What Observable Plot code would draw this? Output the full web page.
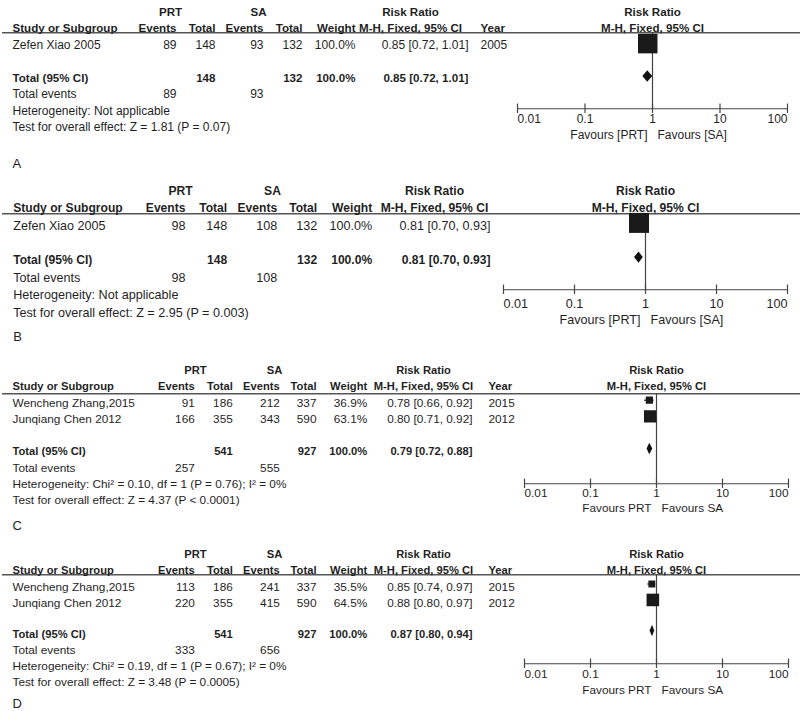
<!DOCTYPE html>
<html><head><meta charset="utf-8">
<script src="https://cdn.jsdelivr.net/npm/d3@7"></script>
<script src="https://cdn.jsdelivr.net/npm/@observablehq/plot@0.6"></script>
<style>
body{margin:0;background:#fff;}
#fig{position:relative;width:800px;height:711px;overflow:hidden;font-family:"Liberation Sans",Arial,sans-serif;background:#fff;}
.panel{position:absolute;left:0;width:800px;}
</style></head><body><div id="fig"></div>
<script>
// ---------------- DATA ----------------
const panelIds = ["A", "B", "C", "D"];

// Panel A
const studiesA = ["Zefen Xiao 2005"];
const prtEventsA = [89];
const prtTotalA = [148];
const saEventsA = [93];
const saTotalA = [132];
const weightA = [100.0];
const rrA = [0.85];
const rrLowA = [0.72];
const rrHighA = [1.01];
const yearA = [2005];
const totalA = {prtTotal: 148, saTotal: 132, weight: 100.0, rr: 0.85, low: 0.72, high: 1.01, prtEvents: 89, saEvents: 93};
const hetA = "Heterogeneity: Not applicable";
const testA = "Test for overall effect: Z = 1.81 (P = 0.07)";

// Panel B
const studiesB = ["Zefen Xiao 2005"];
const prtEventsB = [98];
const prtTotalB = [148];
const saEventsB = [108];
const saTotalB = [132];
const weightB = [100.0];
const rrB = [0.81];
const rrLowB = [0.70];
const rrHighB = [0.93];
const yearB = null;
const totalB = {prtTotal: 148, saTotal: 132, weight: 100.0, rr: 0.81, low: 0.70, high: 0.93, prtEvents: 98, saEvents: 108};
const hetB = "Heterogeneity: Not applicable";
const testB = "Test for overall effect: Z = 2.95 (P = 0.003)";

// Panel C
const studiesC = ["Wencheng Zhang,2015", "Junqiang Chen 2012"];
const prtEventsC = [91, 166];
const prtTotalC = [186, 355];
const saEventsC = [212, 343];
const saTotalC = [337, 590];
const weightC = [36.9, 63.1];
const rrC = [0.78, 0.80];
const rrLowC = [0.66, 0.71];
const rrHighC = [0.92, 0.92];
const yearC = [2015, 2012];
const totalC = {prtTotal: 541, saTotal: 927, weight: 100.0, rr: 0.79, low: 0.72, high: 0.88, prtEvents: 257, saEvents: 555};
const hetC = "Heterogeneity: Chi² = 0.10, df = 1 (P = 0.76); I² = 0%";
const testC = "Test for overall effect: Z = 4.37 (P < 0.0001)";

// Panel D
const studiesD = ["Wencheng Zhang,2015", "Junqiang Chen 2012"];
const prtEventsD = [113, 220];
const prtTotalD = [186, 355];
const saEventsD = [241, 415];
const saTotalD = [337, 590];
const weightD = [35.5, 64.5];
const rrD = [0.85, 0.88];
const rrLowD = [0.74, 0.80];
const rrHighD = [0.97, 0.97];
const yearD = [2015, 2012];
const totalD = {prtTotal: 541, saTotal: 927, weight: 100.0, rr: 0.87, low: 0.80, high: 0.94, prtEvents: 333, saEvents: 656};
const hetD = "Heterogeneity: Chi² = 0.19, df = 1 (P = 0.67); I² = 0%";
const testD = "Test for overall effect: Z = 3.48 (P = 0.0005)";

const tickValues = [0.01, 0.1, 1, 10, 100];
const tickLabels = ["0.01", "0.1", "1", "10", "100"];
const favoursLeft = {A: "Favours [PRT]", B: "Favours [PRT]", C: "Favours PRT", D: "Favours PRT"};
const favoursRight = {A: "Favours [SA]", B: "Favours [SA]", C: "Favours SA", D: "Favours SA"};

const panelData = {
  A: {studies: studiesA, prtEvents: prtEventsA, prtTotal: prtTotalA, saEvents: saEventsA, saTotal: saTotalA, weight: weightA, rr: rrA, low: rrLowA, high: rrHighA, year: yearA, total: totalA, het: hetA, test: testA},
  B: {studies: studiesB, prtEvents: prtEventsB, prtTotal: prtTotalB, saEvents: saEventsB, saTotal: saTotalB, weight: weightB, rr: rrB, low: rrLowB, high: rrHighB, year: yearB, total: totalB, het: hetB, test: testB},
  C: {studies: studiesC, prtEvents: prtEventsC, prtTotal: prtTotalC, saEvents: saEventsC, saTotal: saTotalC, weight: weightC, rr: rrC, low: rrLowC, high: rrHighC, year: yearC, total: totalC, het: hetC, test: testC},
  D: {studies: studiesD, prtEvents: prtEventsD, prtTotal: prtTotalD, saEvents: saEventsD, saTotal: saTotalD, weight: weightD, rr: rrD, low: rrLowD, high: rrHighD, year: yearD, total: totalD, het: hetD, test: testD}
};

// ---------------- LAYOUT ----------------
const layout = {
  A: {top: 0, h: 170, fs: 12, fsb: 11.6, y0: 11.7, rowH: 16.45, studyRows: [2], totalRow: 4, eventsRow: 5, hetRow: 6, testRow: 7, labelRow: 9.2, ruleRow: 1.25, axisRow: 5.87,
      cols: {study: 12, ev1: 176, tot1: 215, ev2: 263, tot2: 302, wt: 355, rr: 468, rrHead: 410, year: 480, prt: 170, sa: 258},
      fx: [517, 787], side: 19.5, tickDy: 10.5, favDy: 26, markDy: -1.5},
  B: {top: 170, h: 185, fs: 12.6, fsb: 12.1, y0: 20.7, rowH: 17.35, studyRows: [2], totalRow: 4, eventsRow: 5, hetRow: 6, testRow: 7, labelRow: 8.42, ruleRow: 1.30, axisRow: 5.68,
      cols: {study: 12.7, ev1: 185, tot1: 226.7, ev2: 276.7, tot2: 316.7, wt: 371.7, rr: 490, rrHead: 434, year: null, prt: 180, sa: 272},
      fx: [503, 787], side: 20, tickDy: 14, favDy: 30, markDy: -3},
  C: {top: 355, h: 180, fs: 11.8, fsb: 11.2, y0: 15, rowH: 16.25, studyRows: [2, 3], totalRow: 5, eventsRow: 6, hetRow: 7, testRow: 8, labelRow: 9.54, ruleRow: 1.43, axisRow: 6.97,
      cols: {study: 12, ev1: 194.3, tot1: 232.3, ev2: 279.3, tot2: 316, wt: 366.7, rr: 472, rrHead: 423, year: 488, prt: 195, sa: 274},
      fx: [524, 788], side: 19.5, tickDy: 9, favDy: 24.4, markDy: -2.8},
  D: {top: 535, h: 176, fs: 11.8, fsb: 11.2, y0: 19.3, rowH: 15.95, studyRows: [2.05, 3.05], totalRow: 5, eventsRow: 6, hetRow: 7, testRow: 8, labelRow: 9.34, ruleRow: 1.25, axisRow: 6.83,
      cols: {study: 12, ev1: 194.3, tot1: 232.3, ev2: 279.3, tot2: 316, wt: 366.7, rr: 472, rrHead: 423, year: 488, prt: 195, sa: 274},
      fx: [524, 788], side: 19.5, tickDy: 10.9, favDy: 26, markDy: -3.5}
};

const TEXT = "#1f1f1f";
const LINE = "#444";
const FONT = "Liberation Sans, Arial, sans-serif";
const f2 = d3.format(".2f");
const f1 = d3.format(".1f");
const ciText = (r, l, h) => `${f2(r)} [${f2(l)}, ${f2(h)}]`;
const wText = w => f1(w) + "%";

function buildPanel(id) {
  const d = panelData[id], L = layout[id], c = L.cols;
  const rows = d.studies.map((s, i) => ({
    name: s, ev1: d.prtEvents[i], tot1: d.prtTotal[i], ev2: d.saEvents[i], tot2: d.saTotal[i],
    w: d.weight[i], rr: d.rr[i], lo: d.low[i], hi: d.high[i], year: d.year ? d.year[i] : null, row: L.studyRows[i]
  }));
  const cells = [];
  const add = (x, row, text, anchor, bold) => cells.push({x, row, text: String(text), anchor, bold});
  add(c.prt, 0, "PRT", "middle", true);
  add(c.sa, 0, "SA", "middle", true);
  add(c.rrHead, 0, "Risk Ratio", "middle", true);
  add(c.study, 1, "Study or Subgroup", "start", true);
  add(c.ev1, 1, "Events", "end", true);
  add(c.tot1, 1, "Total", "end", true);
  add(c.ev2, 1, "Events", "end", true);
  add(c.tot2, 1, "Total", "end", true);
  add(c.wt, 1, "Weight", "end", true);
  add(c.rrHead, 1, "M-H, Fixed, 95% CI", "middle", true);
  if (d.year) add(c.year, 1, "Year", "start", true);
  rows.forEach(r => {
    add(c.study, r.row, r.name, "start", false);
    add(c.ev1, r.row, r.ev1, "end", false);
    add(c.tot1, r.row, r.tot1, "end", false);
    add(c.ev2, r.row, r.ev2, "end", false);
    add(c.tot2, r.row, r.tot2, "end", false);
    add(c.wt, r.row, wText(r.w), "end", false);
    add(c.rr, r.row, ciText(r.rr, r.lo, r.hi), "end", false);
    if (r.year != null) add(c.year, r.row, r.year, "start", false);
  });
  const t = d.total;
  add(c.study, L.totalRow, "Total (95% CI)", "start", true);
  add(c.tot1, L.totalRow, t.prtTotal, "end", true);
  add(c.tot2, L.totalRow, t.saTotal, "end", true);
  add(c.wt, L.totalRow, wText(t.weight), "end", true);
  add(c.rr, L.totalRow, ciText(t.rr, t.low, t.high), "end", true);
  add(c.study, L.eventsRow, "Total events", "start", false);
  add(c.ev1, L.eventsRow, t.prtEvents, "end", false);
  add(c.ev2, L.eventsRow, t.saEvents, "end", false);
  add(c.study, L.hetRow, d.het, "start", false);
  add(c.study, L.testRow, d.test, "start", false);

  const yScale = {type: "linear", domain: [0, 10], range: [L.y0, L.y0 + 10 * L.rowH], axis: null};
  const svgStyle = {background: "transparent", position: "absolute", left: "0px", top: "0px", fontFamily: FONT, overflow: "visible"};

  const textMarks = [];
  for (const anchor of ["start", "middle", "end"]) {
    for (const bold of [false, true]) {
      const sub = cells.filter(e => e.anchor === anchor && e.bold === bold);
      if (!sub.length) continue;
      textMarks.push(Plot.text(sub, {x: "x", y: "row", text: "text", textAnchor: anchor,
        fontWeight: bold ? "bold" : "normal", fontSize: bold ? L.fsb : L.fs, fill: TEXT, fontFamily: FONT}));
    }
  }

  const table = Plot.plot({
    width: 800, height: L.h, margin: 0,
    x: {type: "linear", domain: [0, 800], range: [0, 800], axis: null},
    y: yScale,
    style: svgStyle,
    marks: [
      Plot.ruleY([L.ruleRow], {y: v => v, x1: () => 2, x2: () => 800, stroke: "#555", strokeWidth: 1.6}),
      ...textMarks,
      Plot.text([id], {x: () => c.study, y: () => L.labelRow, text: v => v, textAnchor: "start", fontSize: 13, fill: TEXT, fontFamily: FONT})
    ]
  });

  const hh = 5.7 / L.rowH;
  const diamond = [
    {y: L.totalRow - hh, x1: t.rr, x2: t.rr},
    {y: L.totalRow, x1: t.low, x2: t.high},
    {y: L.totalRow + hh, x1: t.rr, x2: t.rr}
  ];
  const tk = 4.7 / L.rowH;
  const ticks = tickValues.map((v, i) => ({v, label: tickLabels[i],
    anchor: i === 0 ? "start" : i === tickValues.length - 1 ? "end" : "middle"}));
  const tickText = ["start", "middle", "end"].map(a =>
    Plot.text(ticks.filter(k => k.anchor === a), {x: "v", y: () => L.axisRow, dy: L.tickDy, text: "label",
      textAnchor: a, fontSize: L.fs, fill: TEXT, fontFamily: FONT}));

  const forest = Plot.plot({
    width: 800, height: L.h, margin: 0,
    x: {type: "log", domain: [0.01, 100], range: L.fx, axis: null},
    y: yScale,
    r: {type: "linear", domain: [0, 100], range: [0, L.side / Math.sqrt(Math.PI)]},
    style: svgStyle,
    marks: [
      Plot.text(["Risk Ratio"], {x: () => 1, y: () => 0, text: v => v, fontWeight: "bold", fontSize: L.fsb, fill: TEXT, fontFamily: FONT}),
      Plot.text(["M-H, Fixed, 95% CI"], {x: () => 1, y: () => 1, text: v => v, fontWeight: "bold", fontSize: L.fsb, fill: TEXT, fontFamily: FONT}),
      Plot.ruleX([1], {x: v => v, y1: () => L.ruleRow, y2: () => L.axisRow, stroke: LINE, strokeWidth: 1.2}),
      Plot.ruleY([L.axisRow], {y: v => v, x1: () => 0.01, x2: () => 100, stroke: LINE, strokeWidth: 1.2}),
      Plot.ruleX(tickValues, {x: v => v, y1: () => L.axisRow - tk, y2: () => L.axisRow + tk, stroke: LINE, strokeWidth: 1.2}),
      ...tickText,
      Plot.text([favoursLeft[id]], {x: () => 1, y: () => L.axisRow, dy: L.favDy, dx: -5, text: v => v, textAnchor: "end", fontSize: L.fs, fill: TEXT, fontFamily: FONT}),
      Plot.text([favoursRight[id]], {x: () => 1, y: () => L.axisRow, dy: L.favDy, dx: 5, text: v => v, textAnchor: "start", fontSize: L.fs, fill: TEXT, fontFamily: FONT}),
      Plot.ruleY(rows, {y: "row", x1: "lo", x2: "hi", dy: L.markDy, stroke: "#1a1a1a", strokeWidth: 1.2}),
      Plot.dot(rows, {x: "rr", y: "row", r: "w", symbol: "square", fill: "#1a1a1a", stroke: "none", dy: L.markDy}),
      Plot.areaX(diamond, {y: "y", x1: "x1", x2: "x2", fill: "#111", curve: "linear", dy: L.markDy})
    ]
  });

  const div = document.createElement("div");
  div.className = "panel";
  div.style.top = L.top + "px";
  div.style.height = L.h + "px";
  div.appendChild(table);
  div.appendChild(forest);
  return div;
}

const fig = document.getElementById("fig");
panelIds.forEach(id => fig.appendChild(buildPanel(id)));
</script>
</body></html>
